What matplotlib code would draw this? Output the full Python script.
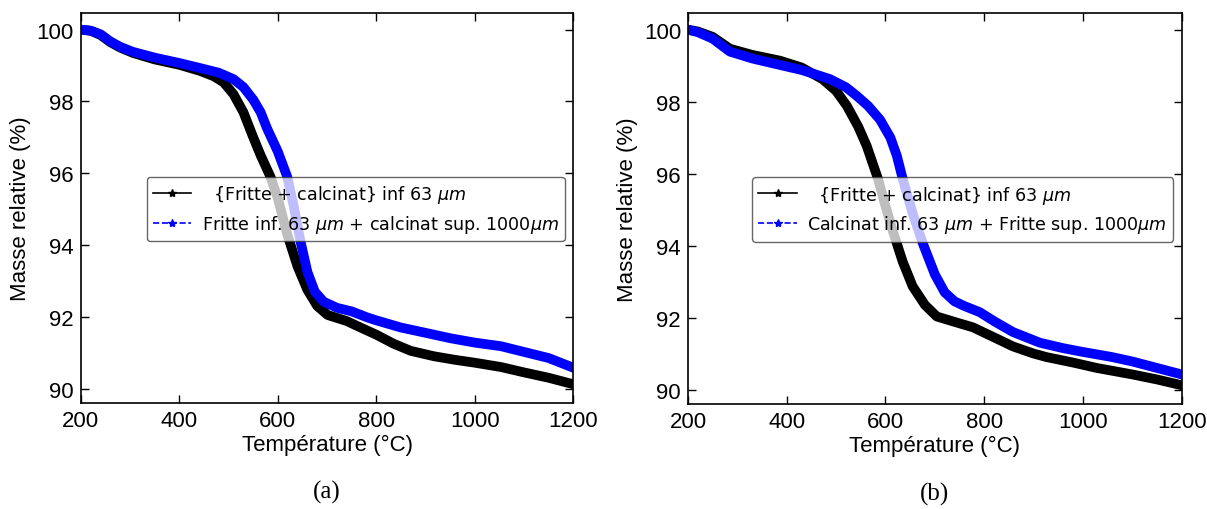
import matplotlib
matplotlib.use("Agg")
import matplotlib.pyplot as plt
from matplotlib.lines import Line2D

# temperature (°C) / masse relative (%)
temp_a_ref = [200, 220, 240, 260, 280, 306, 350, 400, 442, 470, 490, 510, 530,
              550, 565, 585, 600, 619, 640, 660, 680, 701, 740, 768, 800, 835,
              870, 917, 960, 1000, 1053, 1100, 1150, 1200]
mass_a_ref = [100.0, 99.97, 99.85, 99.65, 99.5, 99.35, 99.17, 99.02, 98.85,
              98.7, 98.53, 98.2, 97.7, 97.0, 96.5, 95.9, 95.3, 94.3, 93.4,
              92.75, 92.3, 92.05, 91.88, 91.7, 91.5, 91.25, 91.05, 90.9, 90.8,
              90.72, 90.6, 90.45, 90.3, 90.12]
temp_a_blue = [200, 220, 240, 260, 280, 306, 350, 400, 442, 480, 510, 530, 550,
               565, 578, 600, 619, 632, 646, 660, 675, 693, 720, 750, 782, 800,
               850, 884, 951, 1000, 1053, 1100, 1150, 1200]
mass_a_blue = [100.0, 99.97, 99.87, 99.67, 99.52, 99.38, 99.22, 99.07, 98.93,
               98.8, 98.62, 98.4, 98.05, 97.7, 97.25, 96.6, 95.9, 95.1, 94.1,
               93.25, 92.7, 92.42, 92.25, 92.15, 91.98, 91.9, 91.7, 91.6, 91.4,
               91.28, 91.18, 91.02, 90.85, 90.58]

temp_b_ref = [200, 220, 250, 285, 330, 386, 430, 473, 500, 522, 545, 562, 585,
              600, 615, 635, 655, 680, 704, 740, 777, 820, 858, 900, 927, 980,
              1028, 1100, 1150, 1200]
mass_b_ref = [100.0, 99.95, 99.8, 99.47, 99.3, 99.14, 98.95, 98.62, 98.3,
              97.88, 97.3, 96.77, 95.85, 95.1, 94.4, 93.55, 92.87, 92.35, 92.03,
              91.88, 91.73, 91.45, 91.2, 91.0, 90.9, 90.75, 90.6, 90.42, 90.28,
              90.12]
temp_b_blue = [200, 220, 250, 285, 330, 386, 430, 487, 520, 542, 565, 589, 610,
               623, 635, 655, 676, 700, 720, 740, 760, 791, 820, 858, 913, 960,
               994, 1060, 1100, 1150, 1200]
mass_b_blue = [100.0, 99.93, 99.75, 99.39, 99.2, 99.02, 98.88, 98.63, 98.4,
               98.16, 97.88, 97.5, 97.0, 96.5, 95.85, 94.9, 94.05, 93.2, 92.7,
               92.45, 92.32, 92.15, 91.9, 91.6, 91.3, 91.15, 91.06, 90.9, 90.78,
               90.6, 90.42]

label_ref = r"  {Fritte + calcinat} inf 63 $\mu m$"
label_a = r"Fritte inf. 63 $\mu m$ + calcinat sup. 1000$\mu m$"
label_b = r"Calcinat inf. 63 $\mu m$ + Fritte sup. 1000$\mu m$"

xticks = [200, 400, 600, 800, 1000, 1200]
yticks = [90, 92, 94, 96, 98, 100]

plt.rcParams["font.family"] = ["Liberation Sans", "DejaVu Sans"]
plt.rcParams["mathtext.fontset"] = "dejavusans"

fig = plt.figure(figsize=(12.07, 5.10), dpi=100)
ax_a = fig.add_axes([0.067, 0.208, 0.408, 0.765])
ax_b = fig.add_axes([0.570, 0.206, 0.409, 0.767])

panels = [
    (ax_a, temp_a_ref, mass_a_ref, temp_a_blue, mass_a_blue, label_a, "(a)"),
    (ax_b, temp_b_ref, mass_b_ref, temp_b_blue, mass_b_blue, label_b, "(b)"),
]

for ax, tr, mr, tb, mb, lab, tag in panels:
    ax.plot(tr, mr, color="black", lw=7, solid_joinstyle="round")
    ax.plot(tb, mb, color="blue", lw=7, solid_joinstyle="round")
    ax.set_xlim(200, 1200)
    ax.set_ylim(89.6, 100.47)
    ax.set_xticks(xticks)
    ax.set_yticks(yticks)
    ax.tick_params(direction="in", top=True, right=True, length=6, width=1,
                   labelsize=16, pad=5)
    for s in ax.spines.values():
        s.set_linewidth(1.2)
    ax.set_xlabel("Température (°C)", fontsize=16, labelpad=2)
    ax.set_ylabel("Masse relative (%)", fontsize=16, labelpad=4)

    handles = [
        Line2D([], [], color="black", ls="-", lw=1.2, marker="*", ms=6),
        Line2D([], [], color="blue", ls="--", lw=1.2, marker="*", ms=6),
    ]
    leg = ax.legend(handles, [label_ref, lab], loc="center right",
                    bbox_to_anchor=(0.99, 0.497),
                    prop={"family": "DejaVu Sans", "size": 12.6},
                    fancybox=True, framealpha=0.75, edgecolor="#333333",
                    handlelength=2.2, handletextpad=0.6, borderpad=0.35,
                    labelspacing=0.45, borderaxespad=0.2)
    leg.get_frame().set_linewidth(1.0)
    ax.text(0.5, -0.228, tag, transform=ax.transAxes, ha="center",
            va="center", fontsize=18, family="Liberation Serif")

fig.savefig("out.png", dpi=100)
